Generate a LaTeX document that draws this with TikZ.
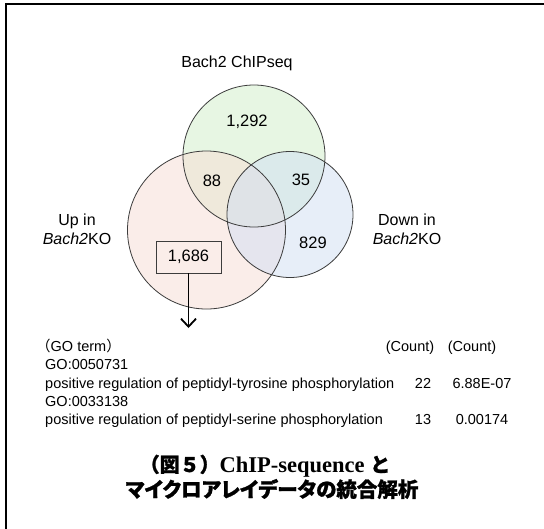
\documentclass[tikz,border=0pt]{standalone}
\usepackage{fontspec}
\setmainfont{Liberation Sans}
\newfontfamily\cjk{Noto Sans CJK JP}
\newfontfamily\serifb{Liberation Serif}
\usetikzlibrary{arrows.meta}
\definecolor{gfill}{RGB}{209,239,201}
\definecolor{pfill}{RGB}{247,221,213}
\definecolor{bfill}{RGB}{209,223,243}
\definecolor{edge}{RGB}{60,60,60}
\newcommand{\jpt}{\cjk\bfseries\addfontfeature{FakeBold=1.2}\fontsize{20}{22}\selectfont}
\newcommand{\jpp}{\cjk\bfseries\addfontfeature{FakeBold=1.2,RawFeature=+palt}\fontsize{20.5}{22}\selectfont}
\begin{document}
\begin{tikzpicture}[x=1pt,y=-1pt,
  venn/.style={circle, inner sep=0pt, fill opacity=0.5, text opacity=1},
  ring/.style={circle, inner sep=0pt, draw=edge, line width=0.8pt},
  lab/.style={font=\fontsize{16}{19}\selectfont, align=center, inner sep=0pt},
  num/.style={font=\fontsize{16.5}{19}\selectfont, inner sep=0pt},
  tab/.style={font=\fontsize{14.5}{17}\selectfont, inner sep=0pt, anchor=base west},
  tabc/.style={font=\fontsize{14.5}{17}\selectfont, inner sep=0pt, anchor=base},
  ttl/.style={inner sep=0pt, anchor=base},
  arr/.style={line width=1.8pt, -{Straight Barb[length=8pt,width=15pt,line width=1.8pt]}}
]
\useasboundingbox (0,0) rectangle (544,528);
\fill[white] (0,0) rectangle (544,528);
\draw[line width=2pt] (6,532) -- (6,4) -- (548,4);

% venn fills
\node[venn, fill=gfill, minimum size=142pt] (G) at (254,156) {};
\node[venn, fill=pfill, minimum size=158pt] (P) at (206.5,230) {};
\node[venn, fill=bfill, minimum size=126pt] (B) at (290,214.5) {};
% venn outlines
\node[ring, minimum size=142pt] (Go) at (254,156) {};
\node[ring, minimum size=158pt] (Po) at (206.5,230) {};
\node[ring, minimum size=126pt] (Bo) at (290,214.5) {};

\node[lab] (chip) at (237,63) {Bach2 ChIPseq};
\node[lab] (up) at (77,229) {Up in\\\textit{Bach2}KO};
\node[lab] (down) at (407,229) {Down in\\\textit{Bach2}KO};

\node[num] (n1) at (247,122) {1,292};
\node[num] (n2) at (212,181) {88};
\node[num] (n3) at (301,180) {35};
\node[num] (n4) at (313,243) {829};
\node[num, draw=edge, line width=0.9pt, minimum width=65pt, minimum height=32pt] (box) at (188.5,257) {1,686};
\coordinate (tip) at (188.5,328);
\draw[arr] (box.south) -- (tip);

\node[tab] (h1) at (36,351) {{\cjk （}GO term{\cjk ）}};
\node[tabc] (h2) at (410,351) {(Count)};
\node[tabc] (h3) at (472,351) {(Count)};
\node[tab] (r1) at (45,369.5) {GO:0050731};
\node[tab] (r2) at (45,388) {positive regulation of peptidyl-tyrosine phosphorylation};
\node[tabc] (r2a) at (423,388) {22};
\node[tabc] (r2b) at (482,388) {6.88E-07};
\node[tab] (r3) at (45,406) {GO:0033138};
\node[tab] (r4) at (45,424.5) {positive regulation of peptidyl-serine phosphorylation};
\node[tabc] (r4a) at (423,424.5) {13};
\node[tabc] (r4b) at (482,424.5) {0.00174};

\node[ttl] (t1) at (265,472) {{\jpt （図５）}{\serifb\bfseries\fontsize{22.5}{24}\selectfont ChIP-sequence }{\jpt と}};
\node[ttl] (t2) at (272,497) {{\jpp マイクロアレイデータの統合解析}};
\end{tikzpicture}
\end{document}
